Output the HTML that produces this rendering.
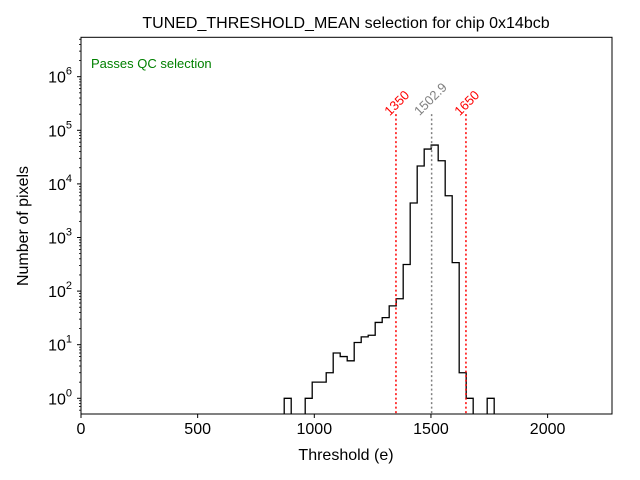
<!DOCTYPE html>
<html><head><meta charset="utf-8"><style>
body{margin:0;background:#fff;}
svg{display:block;font-family:"Liberation Sans","DejaVu Sans",sans-serif;}
</style></head><body>
<svg id="c" width="640" height="480"></svg>
<script>
const binStart = 871;
const binWidth = 30;
const counts = [1,0,0,1,2,2,3,7,6,5,11,14,15,26,32,53,72,313,4400,21600,44700,53000,27000,6000,340,3,1,0,0,1];
const cutLines = [1350, 1650];
const cutLabels = ["1350", "1650"];
const meanValue = [1502.9];
const meanLabel = ["1502.9"];
const xTicks = [0, 500, 1000, 1500, 2000];
const yTickExps = [0, 1, 2, 3, 4, 5, 6];

const L=81,R=612,T=37.3,B=414;
const xmin=0,xmax=2276,lmin=-0.293,lmax=6.735;
const X=v=>L+(v-xmin)/(xmax-xmin)*(R-L);
const Y=v=>B-(Math.log10(v)-lmin)/(lmax-lmin)*(B-T);
const svg=document.getElementById('c');
const NS='http://www.w3.org/2000/svg';
function mk(tag,attrs,parent){const e=document.createElementNS(NS,tag);for(const k in attrs)e.setAttribute(k,attrs[k]);(parent||svg).appendChild(e);return e;}

// histogram path
let d='';
const yb=B+2;
counts.forEach((c,i)=>{
  const x0=X(binStart+i*binWidth),x1=X(binStart+(i+1)*binWidth);
  const y=c>0?Y(c):yb;
  if(c>0){d+=`M${x0},${yb}L${x0},${y}L${x1},${y}L${x1},${yb}`;}
});
// build as proper step outline
let pts=[];let prev=yb;
counts.forEach((c,i)=>{
  const x0=X(binStart+i*binWidth),x1=X(binStart+(i+1)*binWidth);
  const y=c>0?Y(c):yb;
  pts.push([x0,prev],[x0,y]);prev=y;
  if(i===counts.length-1)pts.push([x1,y],[x1,yb]);
});
const cp=mk('clipPath',{id:'clip'});mk('rect',{x:L,y:T,width:R-L,height:B-T},cp);
const hist=mk('path',{d:'M'+pts.map(p=>p.join(',')).join('L'),fill:'none',stroke:'#000','stroke-width':1.3,'clip-path':'url(#clip)'});



// cut lines
cutLines.forEach((v,i)=>{
  const l=mk('line',{x1:X(v),x2:X(v),y1:Y(2e5),y2:B,stroke:'red','stroke-width':1.5,'stroke-dasharray':'2,2.5'});
  
  
  const t=mk('text',{x:X(v)+4,y:Y(2e5)-8,'font-size':13,fill:'red',transform:`rotate(-45 ${X(v)+4} ${Y(2e5)-8})`,'text-anchor':'middle'});
  t.textContent=cutLabels[i];
  
  
});
meanValue.forEach((v,i)=>{
  const l=mk('line',{x1:X(v),x2:X(v),y1:Y(2e5),y2:B,stroke:'#808080','stroke-width':1.5,'stroke-dasharray':'2,2.5'});
  
  
  const t=mk('text',{x:X(v)+2,y:Y(2e5)-12,'font-size':13,fill:'#808080',transform:`rotate(-45 ${X(v)+2} ${Y(2e5)-12})`,'text-anchor':'middle'});
  t.textContent=meanLabel[i];
  
  
});

// axes frame
const fr=mk('rect',{x:L,y:T,width:R-L,height:B-T,fill:'none',stroke:'#000','stroke-width':1});



xTicks.forEach(v=>{
  mk('line',{x1:X(v),x2:X(v),y1:B,y2:B+4,stroke:'#000'});
  const t=mk('text',{x:X(v),y:B+20,'font-size':16,'text-anchor':'middle'});
  t.textContent=v;
  
  
});
yTickExps.forEach(e=>{
  const y=Y(Math.pow(10,e));
  mk('line',{x1:L-4,x2:L,y1:y,y2:y,stroke:'#000'});
  const t=mk('text',{x:L-9,y:y+6,'font-size':16,'text-anchor':'end'});
  t.innerHTML='10<tspan dy="-8" font-size="11">'+e+'</tspan>';
  
  
});
for(let e=-1;e<=6;e++)for(let m=2;m<=9;m++){
  const v=m*Math.pow(10,e);const lv=Math.log10(v);
  if(lv<lmin||lv>lmax)continue;
  const y=Y(v);mk('line',{x1:L-2,x2:L,y1:y,y2:y,stroke:'#000','stroke-width':0.8});
}
</script>
<script>
(function(){
const svg=document.getElementById('c');const NS='http://www.w3.org/2000/svg';
function txt(x,y,s,attrs,name){const e=document.createElementNS(NS,'text');e.setAttribute('x',x);e.setAttribute('y',y);for(const k in attrs)e.setAttribute(k,attrs[k]);e.textContent=s;


svg.appendChild(e);}
txt(346,28,'TUNED_THRESHOLD_MEAN selection for chip 0x14bcb',{'font-size':16,'text-anchor':'middle'},'chart-title');
txt(346,460,'Threshold (e)',{'font-size':16,'text-anchor':'middle'},'x-axis-title');
txt(28,226,'Number of pixels',{'font-size':16,'text-anchor':'middle',transform:'rotate(-90 28 226)'},'y-axis-title');
txt(91,68,'Passes QC selection',{'font-size':13,fill:'green'},'qc-status-label');
})();
</script>
</body></html>
